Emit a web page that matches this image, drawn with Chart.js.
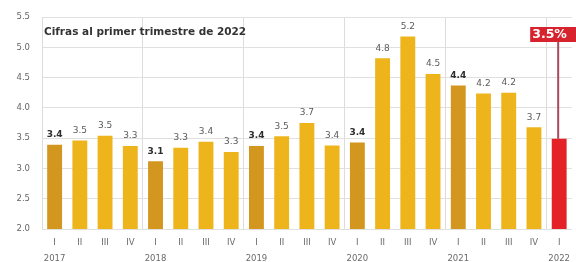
<!DOCTYPE html>
<html>
<head>
<meta charset="utf-8">
<script src="https://cdn.jsdelivr.net/npm/chart.js@4.4.1/dist/chart.umd.min.js"></script>
<style>
  html, body { margin: 0; padding: 0; background: #ffffff; }
  #wrap { width: 576px; height: 262px; position: relative; }
</style>
</head>
<body>
<div id="wrap"><canvas id="c" width="576" height="262"></canvas></div>
<script>
const years = ['2017', '2018', '2019', '2020', '2021', '2022'];
const quarters = ['I', 'II', 'III', 'IV'];
const values = [3.39, 3.46, 3.54, 3.37, 3.12, 3.34, 3.44, 3.27, 3.37, 3.53, 3.75, 3.38, 3.43, 4.82, 5.18, 4.56, 4.37, 4.24, 4.25, 3.68, 3.49];
const valueLabels = ['3.4', '3.5', '3.5', '3.3', '3.1', '3.3', '3.4', '3.3', '3.4', '3.5', '3.7', '3.4', '3.4', '4.8', '5.2', '4.5', '4.4', '4.2', '4.2', '3.7', ''];
const highlightText = '3.5%';
const noteText = 'Cifras al primer trimestre de 2022';
const yTicks = [2.0, 2.5, 3.0, 3.5, 4.0, 4.5, 5.0, 5.5];

const COL_Q1 = '#D3961F';
const COL_Q = '#EDB41C';
const COL_LAST = '#E42126';
const FONT = '"DejaVu Sans", "Liberation Sans", Arial, sans-serif';

const labels = [];
const colors = [];
values.forEach((v, i) => {
  const q = quarters[i % 4];
  const y = years[Math.floor(i / 4)];
  labels.push(i % 4 === 0 ? [q, y] : [q, '']);
  if (i === values.length - 1) colors.push(COL_LAST);
  else colors.push(i % 4 === 0 ? COL_Q1 : COL_Q);
});

const overlay = {
  id: 'overlay',
  afterDatasetsDraw(chart) {
    const ctx = chart.ctx;
    const meta = chart.getDatasetMeta(0);
    ctx.save();
    // value labels
    meta.data.forEach((bar, i) => {
      const t = valueLabels[i];
      if (!t) return;
      const q1 = i % 4 === 0;
      ctx.font = (q1 ? 'bold ' : '') + '9px ' + FONT;
      ctx.fillStyle = q1 ? '#2e2e2e' : '#5a5a5a';
      ctx.textAlign = 'center';
      ctx.textBaseline = 'middle';
      ctx.fillText(t, bar.x, bar.y - 10);
    });
    // note
    const ca = chart.chartArea;
    ctx.font = 'bold 10.5px ' + FONT;
    ctx.fillStyle = '#333333';
    ctx.textAlign = 'left';
    ctx.textBaseline = 'middle';
    ctx.fillText(noteText, ca.left + 2, 32.5);
    // highlight callout
    const last = meta.data[meta.data.length - 1];
    const boxL = last.x - 29, boxT = 27, boxH = 15;
    ctx.strokeStyle = '#A84A5E';
    ctx.lineWidth = 2;
    ctx.beginPath();
    ctx.moveTo(last.x - 1, boxT + boxH);
    ctx.lineTo(last.x - 1, last.y);
    ctx.stroke();
    ctx.fillStyle = '#D7232E';
    ctx.fillRect(boxL, boxT, 60, boxH);
    ctx.font = 'bold 12.5px ' + FONT;
    ctx.fillStyle = '#ffffff';
    ctx.textAlign = 'left';
    ctx.fillText(highlightText, boxL + 2, boxT + boxH / 2 + 0.5);
    ctx.restore();
  }
};

new Chart(document.getElementById('c'), {
  type: 'bar',
  data: {
    labels: labels,
    datasets: [{
      data: values,
      backgroundColor: colors,
      borderWidth: 0,
      barPercentage: 0.59,
      categoryPercentage: 1.0
    }]
  },
  options: {
    responsive: false,
    animation: false,
    devicePixelRatio: 1,
    layout: { padding: { top: 13, right: 0, bottom: 0, left: 0 } },
    plugins: { legend: { display: false }, tooltip: { enabled: false }, title: { display: false } },
    scales: {
      x: {
        grid: {
          offset: true,
          drawTicks: false,
          color: (c) => (c.index !== undefined && c.index % 4 === 0) ? '#dcdcdc' : 'rgba(0,0,0,0)',
          lineWidth: 1
        },
        border: { display: false },
        ticks: {
          autoSkip: false,
          maxRotation: 0,
          padding: 6,
          color: '#6a6a6a',
          font: { size: 8.5, family: FONT, lineHeight: 1.9 }
        },
        afterFit: (s) => { s.height = 33; }
      },
      y: {
        min: 2,
        max: 5.5,
        afterBuildTicks: (s) => { s.ticks = yTicks.map(v => ({ value: v })); },
        grid: { color: '#e0e0e0', drawTicks: false, lineWidth: 1 },
        border: { display: false },
        ticks: {
          padding: 12,
          color: '#666666',
          font: { size: 8.5, family: FONT },
          callback: (v) => Number(v).toFixed(1)
        },
        afterFit: (s) => { s.width = 42; }
      }
    }
  },
  plugins: [overlay]
});
</script>
</body>
</html>
